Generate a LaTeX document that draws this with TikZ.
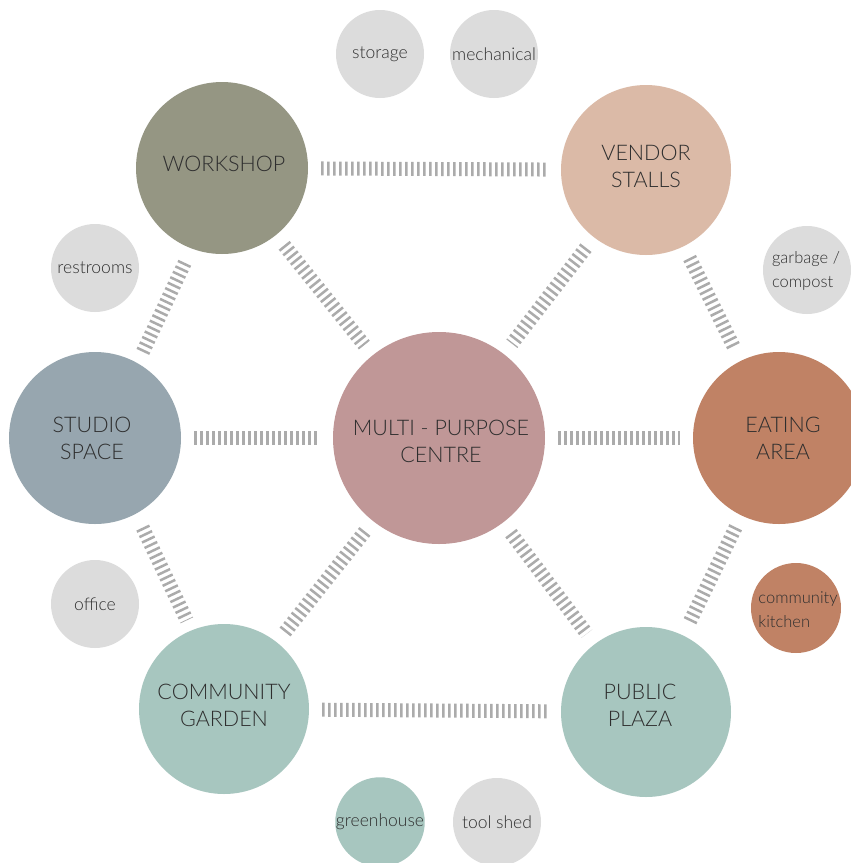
\documentclass[tikz,border=0pt]{standalone}
\usepackage{fontspec}
\setmainfont{Lato Light}
\definecolor{cmpc}{HTML}{C09797}
\definecolor{cws}{HTML}{959683}
\definecolor{cvs}{HTML}{DBBAA7}
\definecolor{cst}{HTML}{97A6AF}
\definecolor{cea}{HTML}{C08265}
\definecolor{cgr}{HTML}{A7C6BF}
\definecolor{cgy}{HTML}{DCDCDC}
\definecolor{cband}{HTML}{ABABAB}
\definecolor{ctxt}{HTML}{2E2E2E}
\tikzset{
  disc/.style={circle, inner sep=0pt, minimum size=#1},
  biglbl/.style={inner sep=0pt, align=center, text=ctxt,
    font=\fontsize{21.5}{27}\selectfont},
  smalllbl/.style={inner sep=0pt, align=left, text=ctxt,
    font=\fontsize{16.5}{24}\selectfont},
  small/.style={circle, inner sep=0pt, minimum size=88pt, align=center, text=ctxt,
    font=\fontsize{17.5}{24}\selectfont},
  band/.style={draw=cband, line width=14pt, dash pattern=on 2.5pt off 3.5pt,
    shorten <=13pt, shorten >=13pt}
}
\begin{document}
\begin{tikzpicture}[x=1pt,y=-1pt]
\clip (0,0) rectangle (851,863);
\fill[white] (0,0) rectangle (851,863);
% main nodes
\node[disc=212pt, fill=cmpc,
  label={[biglbl, xshift=2pt, yshift=-3pt]center:MULTI - PURPOSE\\CENTRE}] (mpc) at (439,438) {};
\node[disc=172pt, fill=cws,
  label={[biglbl, xshift=2pt, yshift=4pt]center:WORKSHOP}] (ws) at (222,168) {};
\node[disc=170pt, fill=cvs,
  label={[biglbl, yshift=4pt]center:VENDOR\\STALLS}] (vs) at (646,170) {};
\node[disc=172pt, fill=cst,
  label={[biglbl, xshift=-3pt]center:STUDIO\\SPACE}] (st) at (95,438) {};
\node[disc=172pt, fill=cea,
  label={[biglbl, xshift=4pt]center:EATING\\AREA}] (ea) at (779,438) {};
\node[disc=170pt, fill=cgr,
  label={[biglbl, yshift=4pt]center:COMMUNITY\\GARDEN}] (cg) at (224,709) {};
\node[disc=170pt, fill=cgr,
  label={[biglbl, xshift=-6pt, yshift=7pt]center:PUBLIC\\PLAZA}] (pp) at (646,712) {};
% small nodes
\node[small, fill=cgy] (sto) at (380,54) {storage};
\node[small, fill=cgy] (mec) at (494,54) {mechanical};
\node[small, fill=cgy] (rr) at (95,268) {restrooms};
\node[disc=88pt, fill=cgy,
  label={[smalllbl, xshift=-1pt, yshift=-1pt]center:garbage /\\compost}] (gc) at (807,270) {};
\node[small, fill=cgy] (of) at (95,604) {office};
\node[disc=90pt, fill=cea,
  label={[smalllbl, xshift=2pt, yshift=-1.5pt]center:community\\kitchen}] (ck) at (796,608) {};
\node[small, fill=cgr] (gh) at (380,822) {greenhouse};
\node[small, fill=cgy] (ts) at (497,822) {tool shed};
% connectors
\draw[band] (ws) -- (vs);
\draw[band] (ws) -- (mpc);
\draw[band] (vs) -- (mpc);
\draw[band, transform canvas={xshift=5pt, yshift=-5pt}] (ws) -- (st);
\draw[band] (vs) -- (ea);
\draw[band] (st) -- (mpc);
\draw[band] (mpc) -- (ea);
\draw[band, transform canvas={xshift=5pt}] (st) -- (cg);
\draw[band] (mpc) -- (cg);
\draw[band] (mpc) -- (pp);
\draw[band] (ea) -- (pp);
\draw[band] (cg) -- (pp);
\end{tikzpicture}
\end{document}
